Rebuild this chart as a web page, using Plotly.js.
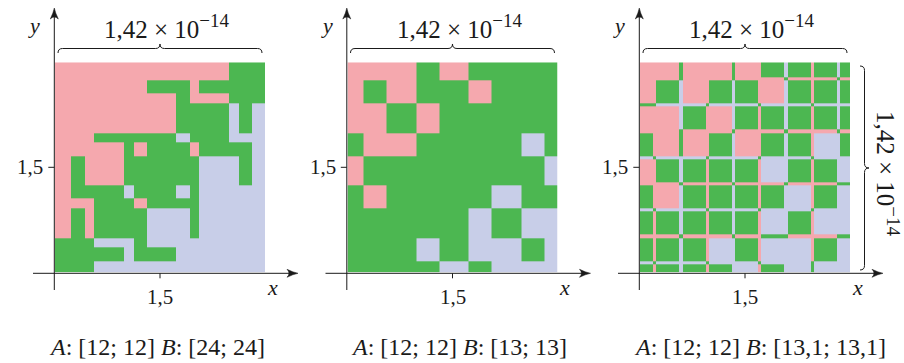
<!DOCTYPE html>
<html><head><meta charset="utf-8">
<script src="https://cdn.plot.ly/plotly-3.0.1.min.js"></script>
<style>html,body{margin:0;padding:0;background:#fff}#chart{width:904px;height:363px}</style>
</head><body><div id="chart"></div>
<script>
// Coordinates: offsets from 1,5 in units of one ulp (2^-52); the window is 64 ulps ~ 1,42e-14
const tickValue = 32;
const tickLabel = '1,5';
const widthLabel = '1,42 × 10<sup><span style="font-size:19px">−14</span></sup>';
const captions = [
  '<i>A</i>: [12; 12] <i>B</i>: [24; 24]',
  '<i>A</i>: [12; 12] <i>B</i>: [13; 13]',
  '<i>A</i>: [12; 12] <i>B</i>: [13,1; 13,1]'
];

// Panel 1 (cell edges + colour per cell, rows listed top to bottom; P = >, G = =, B = <)
const p1XEdges = [0,5,9,12,21,24,28,37,41,44,53,56,60,64];
const p1YEdges = [0,3.5,7.5,10.5,19.5,22.5,26.5,35.5,39.5,42.5,51.5,54.5,58.5,64];
const p1Rows = [
  "PPPPPPPPPPGGG",
  "PPPPPPGGPGGGG",
  "PPPPPPPGPPGGG",
  "PPPPPPPGGGBGB",
  "PPPGGGGBGGBBB",
  "PPPPGPGGPGGGB",
  "PGPPGGGGGBBGB",
  "PGGGBGGBGBBBB",
  "PPPGGPGGGBBBB",
  "PGPGGGBBGBBBB",
  "GGGBBGBBBBBBB",
  "GGGGBGGBBBBBB",
  "GGGBBBBBBBBBB"
];

// Panel 2
const p2XEdges = [0,5,12,21,28,37,44,53,60,64];
const p2YEdges = [0,3.5,10.5,19.5,26.5,35.5,42.5,51.5,58.5,64];
const p2Rows = [
  "PPPGPGGGG",
  "PGPGGPGGG",
  "PPGPGGGGG",
  "GPPGGGGBG",
  "PGGGGGGGB",
  "GPGGGGBGG",
  "GGGGGBGBB",
  "GGGBGBBGB",
  "GGGGBGBBB"
];

// Panel 3: blocks separated by one-ulp lines
const p3XEdges = [0,4,5,12,13,20,21,28,29,36,37,44,45,52,53,60,61,64];
const p3YEdges = [0,2.5,3.5,10.5,11.5,18.5,19.5,26.5,27.5,34.5,35.5,42.5,43.5,50.5,51.5,58.5,59.5,64];
const p3Blocks = [
  "PPPPPGGGG",
  "PGPGGPGGG",
  "PPGPGGGGG",
  "GPPGPGGBG",
  "PGGGGBGGB",
  "GPGGGGBGB",
  "GGGGGBGBB",
  "GGGBGBBGB",
  "GGGGBGBBB"
];
const p3VLines = [ // vertical lines L1..L8, over block rows top to bottom
  "PPPPPPPPP",
  "GBBGBBBBB",
  "PPPPPPPPP",
  "GBBBBBBBB",
  "PPPPPPPPP",
  "BBBBBBBBB",
  "PPPPPPPPG",
  "BBBBBBBBB"
];
const p3HLines = [ // horizontal lines H1..H8 (top to bottom), over block columns
  "PPPPPPPPP",
  "GBBBBBBBB",
  "PPPPPPPPP",
  "BBBBBBBBB",
  "PPPPPPPPG",
  "BBBBBBBBB",
  "PPPPPGPPG",
  "BBBBBBBBB"
];
const p3Cross = [ // line crossings H1..H8 x L1..L8
  "PGPGPGPG",
  "GBGBGBGB",
  "PGPGPGPG",
  "GBGBGBGB",
  "PGPGPGPG",
  "GBGBGBGB",
  "PGPGPGPG",
  "GBGBGBGB"
];

const code = {P: 0, G: 1, B: 2};
const PINK = '#F5A8AE', GREEN = '#4CB751', BLUE = '#C8CEE8', INK = '#1a1a1a';
const FONT = '"Liberation Serif", "Times New Roman", serif';

function toZ(rowsTopDown) {
  return rowsTopDown.slice().reverse().map(r => Array.from(r).map(c => code[c]));
}
function buildP3() {
  const rows = [];
  for (let i = 0; i < p3Blocks.length; i++) {
    let row = '';
    for (let j = 0; j < 9; j++) { row += p3Blocks[i][j]; if (j < 8) row += p3VLines[j][i]; }
    rows.push(row);
    if (i < 8) {
      let hr = '';
      for (let j = 0; j < 9; j++) { hr += p3HLines[i][j]; if (j < 8) hr += p3Cross[i][j]; }
      rows.push(hr);
    }
  }
  return rows;
}

const cs = [[0, PINK],[1/3, PINK],[1/3, GREEN],[2/3, GREEN],[2/3, BLUE],[1, BLUE]];
const panels = [
  {x: p1XEdges, y: p1YEdges, rows: p1Rows},
  {x: p2XEdges, y: p2YEdges, rows: p2Rows},
  {x: p3XEdges, y: p3YEdges, rows: buildP3()}
];
const W = 904, H = 363;
const PX = v => v / W, PY = v => 1 - v / H;
const dxs = [0, 292.5, 585];
const sqLeft = 55, sqSize = 210, sqTop = 62.3;

const data = panels.map((p, i) => ({
  type: 'heatmap', x: p.x, y: p.y, z: toZ(p.rows),
  colorscale: cs, zmin: -0.5, zmax: 2.5, showscale: false, hoverinfo: 'skip',
  xaxis: i ? 'x' + (i + 1) : 'x', yaxis: i ? 'y' + (i + 1) : 'y'
}));

const layout = {
  width: W, height: H, margin: {l: 0, r: 0, t: 0, b: 0},
  paper_bgcolor: '#fff', plot_bgcolor: 'rgba(0,0,0,0)', showlegend: false,
  font: {family: FONT, size: 20, color: INK},
  shapes: [], annotations: []
};
const axBase = {range: [0, 64], showgrid: false, zeroline: false, showline: false, ticks: '', showticklabels: false, fixedrange: true};
dxs.forEach((dx, i) => {
  const s = i ? String(i + 1) : '';
  layout['xaxis' + s] = Object.assign({}, axBase, {domain: [PX(sqLeft + dx), PX(sqLeft + dx + sqSize)], anchor: 'y' + s});
  layout['yaxis' + s] = Object.assign({}, axBase, {domain: [PY(sqTop + sqSize), PY(sqTop)], anchor: 'x' + s});
});

function pathFrom(pts) {
  return pts.map(p => {
    const c = p[0]; const nums = [];
    for (let k = 1; k < p.length; k += 2) nums.push(PX(p[k]).toFixed(5) + ',' + PY(p[k + 1]).toFixed(5));
    return c + nums.join(' ');
  }).join(' ');
}
function lineShape(x0, y0, x1, y1, w) {
  return {type: 'line', xref: 'paper', yref: 'paper', x0: PX(x0), y0: PY(y0), x1: PX(x1), y1: PY(y1), line: {color: INK, width: w || 1}};
}
function arrowRight(tx, ty) {
  return {type: 'path', xref: 'paper', yref: 'paper', fillcolor: INK, line: {color: INK, width: 0.5},
    path: pathFrom([['M', tx, ty], ['Q', tx - 5, ty - 1, tx - 11, ty - 4], ['Q', tx - 7, ty, tx - 11, ty + 4], ['Q', tx - 5, ty + 1, tx, ty], ['Z']])};
}
function arrowUp(tx, ty) {
  return {type: 'path', xref: 'paper', yref: 'paper', fillcolor: INK, line: {color: INK, width: 0.5},
    path: pathFrom([['M', tx, ty], ['Q', tx - 1, ty + 5, tx - 4, ty + 11], ['Q', tx, ty + 7, tx + 4, ty + 11], ['Q', tx + 1, ty + 5, tx, ty], ['Z']])};
}
function braceTop(a, b, yb) {
  const c = (a + b) / 2, yl = yb - 4.5, yt = yb - 9;
  return {type: 'path', xref: 'paper', yref: 'paper', line: {color: INK, width: 1},
    path: pathFrom([['M', a, yb], ['Q', a, yl, a + 4.5, yl], ['L', c - 4.5, yl], ['Q', c, yl, c, yt],
      ['Q', c, yl, c + 4.5, yl], ['L', b - 4.5, yl], ['Q', b, yl, b, yb]])};
}
function braceRight(xb, a, b) {
  const c = (a + b) / 2, xl = xb + 4.5, xt = xb + 9;
  return {type: 'path', xref: 'paper', yref: 'paper', line: {color: INK, width: 1},
    path: pathFrom([['M', xb, a], ['Q', xl, a, xl, a + 4.5], ['L', xl, c - 4.5], ['Q', xl, c, xt, c],
      ['Q', xl, c, xl, c + 4.5], ['L', xl, b - 4.5], ['Q', xl, b, xb, b]])};
}
function label(text, x, y, size, extra) {
  return Object.assign({text: text, xref: 'paper', yref: 'paper', x: PX(x), y: PY(y), showarrow: false,
    xanchor: 'center', yanchor: 'middle', font: {family: FONT, size: size || 20, color: INK}}, extra || {});
}

const axisY = 273.3;
dxs.forEach((dx, i) => {
  const s = i ? String(i + 1) : '';
  const yAxX = sqLeft - 0.7 + dx;
  layout.shapes.push(lineShape(33 + dx, axisY, 292 + dx, axisY));
  layout.shapes.push(arrowRight(298 + dx, axisY));
  layout.shapes.push(lineShape(yAxX, 290, yAxX, 14));
  layout.shapes.push(arrowUp(yAxX, 8));
  layout.shapes.push({type: 'line', xref: 'x' + s, yref: 'paper', x0: tickValue, x1: tickValue, y0: PY(axisY), y1: PY(axisY + 5), line: {color: INK, width: 1}});
  layout.shapes.push({type: 'line', xref: 'paper', yref: 'y' + s, x0: PX(yAxX - 6), x1: PX(yAxX), y0: tickValue, y1: tickValue, line: {color: INK, width: 1}});
  layout.annotations.push({text: tickLabel, xref: 'x' + s, yref: 'paper', x: tickValue, y: PY(297), showarrow: false,
    xanchor: 'center', yanchor: 'middle', font: {family: FONT, size: 21, color: INK}});
  layout.annotations.push({text: tickLabel, xref: 'paper', yref: 'y' + s, x: PX(yAxX - 9), y: tickValue, showarrow: false,
    xanchor: 'right', yanchor: 'middle', font: {family: FONT, size: 21, color: INK}});
  layout.annotations.push(label('<i>x</i>', 272 + dx, 287, 22));
  layout.annotations.push(label('<i>y</i>', 34 + dx, 25, 22));
  layout.shapes.push(braceTop(58 + dx, 262 + dx, 53));
  layout.annotations.push(label(widthLabel, 167 + dx, 27, 25));
  layout.annotations.push(label(captions[i], [157, 459, 760][i], 347, 24));
});
layout.shapes.push(braceRight(860, 66, 270));
layout.annotations.push(label(widthLabel, 887, 174, 25, {textangle: 90}));

Plotly.newPlot('chart', data, layout, {staticPlot: true, displayModeBar: false});
</script>
</body></html>
